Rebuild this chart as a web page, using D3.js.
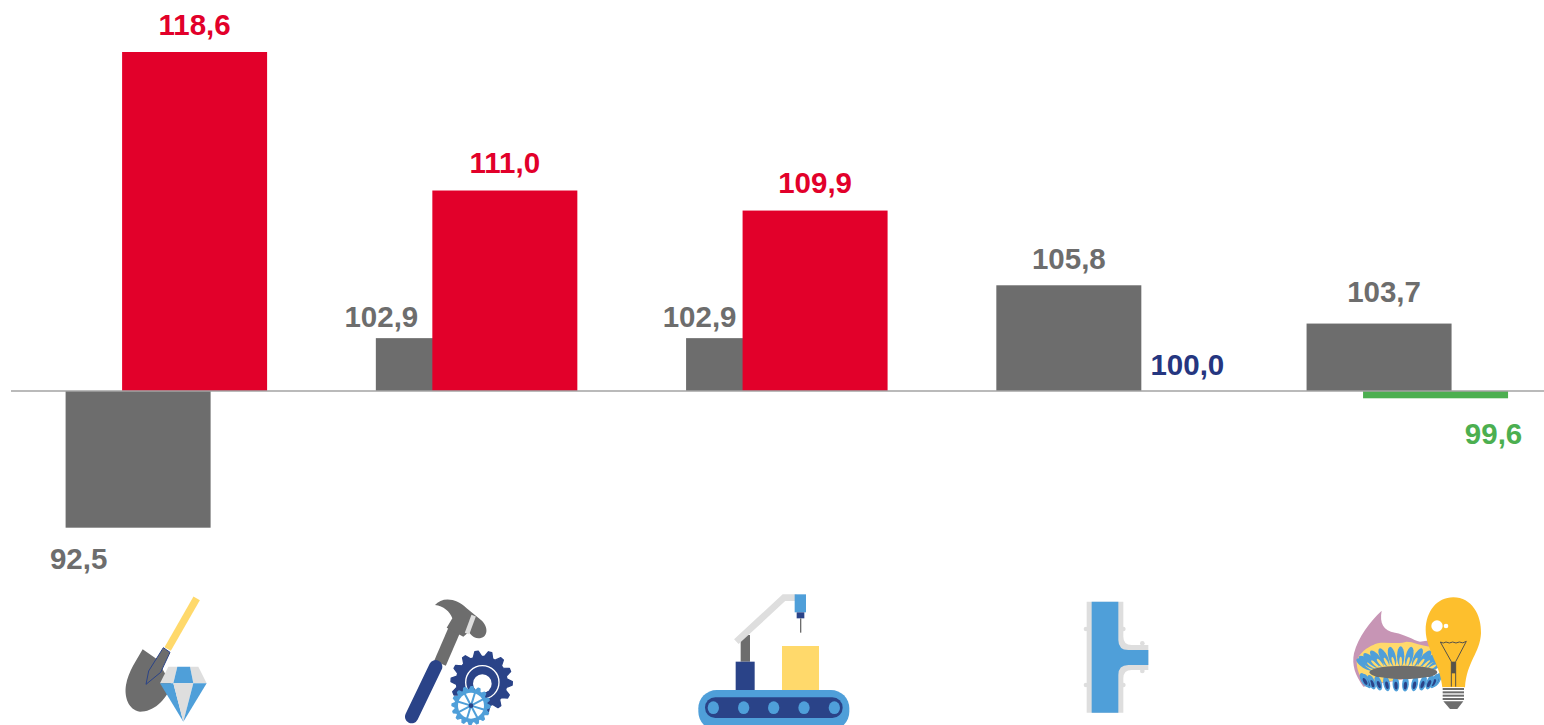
<!DOCTYPE html>
<html>
<head>
<meta charset="utf-8">
<script src="https://cdn.jsdelivr.net/npm/d3@7"></script>
<style>
html, body { margin: 0; padding: 0; background: #fff; overflow: hidden; }
text { font-family: "Liberation Sans", Arial, sans-serif; font-weight: bold; font-size: 29.5px; }
</style>
</head>
<body>
<svg id="canvas" width="1544" height="725"></svg>
<script>
var categories = ["mining", "metalworking", "manufacturing", "water", "energy"];
var previousValues = [92.5, 102.9, 102.9, 105.8, 103.7];
var currentValues = [118.6, 111.0, 109.9, 100.0, 99.6];

var GREY = "#6d6d6d", RED = "#e2002a", NAVY = "#253680", GREEN = "#4caf50";
var BLUE = "#4f9fd9", DARK = "#2a4388", LIGHT = "#dedede", YELLOW = "#ffd96b";

// labels were moved by hand in the original, so they are nudged one by one
var previousLabelShift = [[-59.5, 41], [-67, -11.5], [-59, -11.5], [0, -16.5], [5, -21.5]];
var currentLabelShift = [[0, -17.5], [0, -17.5], [0, -17.5], [62, -16.5], [58, 45.5]];

var svg = d3.select("#canvas");
var barWidth = 145, overlap = 56.5;

var x = d3.scaleBand().domain(categories).range([65.6, 1507.6]).paddingInner(0.352).paddingOuter(0);
var y = d3.scaleLinear().domain([100, 118.6]).range([391, 52]);

function barColor(v) {
    if (v > 100) return RED;
    if (v < 100) return GREEN;
    return NAVY;
}
function fmt(v) {
    return v.toFixed(1).replace(".", ",");
}

function drawSeries(values, offset, colorFn, shift) {
    var g = svg.append("g");
    g.selectAll("rect").data(values).enter().append("rect")
        .attr("x", function (d, i) { return x(categories[i]) + offset; })
        .attr("y", function (d) { return Math.min(y(d), y(100)); })
        .attr("width", barWidth)
        .attr("height", function (d) { return Math.abs(y(d) - y(100)); })
        .attr("fill", colorFn);
    g.selectAll("text").data(values).enter().append("text")
        .attr("x", function (d, i) { return x(categories[i]) + offset + barWidth / 2 + shift[i][0]; })
        .attr("y", function (d, i) { return (d < 100 ? Math.max(y(d), y(100)) : y(d)) + shift[i][1]; })
        .attr("text-anchor", "middle")
        .attr("fill", colorFn)
        .text(fmt);
}

drawSeries(previousValues, 0, function () { return GREY; }, previousLabelShift);
drawSeries(currentValues, overlap, barColor, currentLabelShift);

svg.append("line")
    .attr("x1", 11).attr("x2", 1544)
    .attr("y1", y(100)).attr("y2", y(100))
    .attr("stroke", "#a3a3a3").attr("stroke-width", 1.3);

// icons, drawn in 3x units
function icon(ox, oy) {
    return svg.append("g").attr("transform", "translate(" + ox + "," + oy + ") scale(" + (1 / 3) + ")");
}
function poly(g, pts, fill) {
    return g.append("polygon").attr("points", pts).attr("fill", fill);
}
function gear(g, cx, cy, r, teeth, toothLen, fill) {
    var pts = [];
    var n = teeth * 4;
    for (var i = 0; i < n; i++) {
        var a = (i / n) * 2 * Math.PI;
        var rr = (i % 4 < 2) ? r + toothLen : r;
        pts.push([cx + rr * Math.cos(a), cy + rr * Math.sin(a)].join(","));
    }
    poly(g, pts.join(" "), fill).attr("stroke", fill).attr("stroke-width", 4).attr("stroke-linejoin", "round");
}

function drawShovel() {
    var g = icon(100, 585);
    g.append("line").attr("x1", 290).attr("y1", 40).attr("x2", 203).attr("y2", 192)
        .attr("stroke", YELLOW).attr("stroke-width", 22);
    g.append("path").attr("fill", GREY)
        .attr("d", "M128,193 L170,222 L215,300 C195,350 160,380 120,380 C85,375 72,335 78,300 C85,260 110,225 128,193 Z");
    g.append("path").attr("fill", GREY).attr("stroke", DARK).attr("stroke-width", 3)
        .attr("d", "M190,188 L210,202 L182,262 L138,298 L146,258 Z");
    poly(g, "205,245 232,245 220,295 180,295", LIGHT);
    poly(g, "270,245 295,245 320,295 280,295", LIGHT);
    poly(g, "232,245 270,245 280,295 220,295", BLUE);
    poly(g, "180,295 220,295 250,410", BLUE);
    poly(g, "220,295 280,295 250,410", LIGHT);
    poly(g, "280,295 320,295 250,410", BLUE);
}

function drawHammer() {
    var g = icon(395, 585);
    g.append("line").attr("x1", 178).attr("y1", 135).attr("x2", 135).attr("y2", 235)
        .attr("stroke", GREY).attr("stroke-width", 38);
    g.append("path").attr("fill", GREY)
        .attr("d", "M120,60 C140,35 185,38 215,70 L258,105 C282,125 280,160 250,160 C235,158 225,148 222,140 L205,155 L155,128 L172,100 C165,80 145,62 120,60 Z");
    g.append("line").attr("x1", 236).attr("y1", 92).attr("x2", 216).attr("y2", 146)
        .attr("stroke", LIGHT).attr("stroke-width", 14);
    g.append("line").attr("x1", 122).attr("y1", 245).attr("x2", 50).attr("y2", 395)
        .attr("stroke", DARK).attr("stroke-width", 40).attr("stroke-linecap", "round");
    gear(g, 260, 290, 76, 14, 16, DARK);
    g.append("circle").attr("cx", 262).attr("cy", 292).attr("r", 50)
        .attr("fill", "none").attr("stroke", "#fff").attr("stroke-width", 4);
    g.append("circle").attr("cx", 262).attr("cy", 296).attr("r", 28).attr("fill", "#fff");
    gear(g, 228, 362, 48, 16, 9, BLUE);
    g.append("circle").attr("cx", 228).attr("cy", 362).attr("r", 39).attr("fill", "#fff");
    for (var i = 0; i < 8; i++) {
        var a = i * Math.PI / 4 + 0.3;
        g.append("line").attr("x1", 228).attr("y1", 362)
            .attr("x2", 228 + 42 * Math.cos(a)).attr("y2", 362 + 42 * Math.sin(a))
            .attr("stroke", BLUE).attr("stroke-width", 6);
    }
    g.append("circle").attr("cx", 228).attr("cy", 362).attr("r", 7).attr("fill", DARK);
}

function drawConveyor() {
    var g = icon(690, 585);
    g.append("rect").attr("x", 25).attr("y", 315).attr("width", 453).attr("height", 120).attr("rx", 55).attr("fill", BLUE);
    g.append("rect").attr("x", 45).attr("y", 337).attr("width", 413).attr("height", 62).attr("rx", 31).attr("fill", DARK);
    [70, 161, 251, 342, 433].forEach(function (cx) {
        g.append("ellipse").attr("cx", cx).attr("cy", 368).attr("rx", 17).attr("ry", 19).attr("fill", BLUE);
    });
    g.append("rect").attr("x", 276).attr("y", 183).attr("width", 111).attr("height", 132).attr("fill", YELLOW);
    g.append("rect").attr("x", 152).attr("y", 150).attr("width", 28).attr("height", 80).attr("fill", GREY);
    g.append("rect").attr("x", 137).attr("y", 230).attr("width", 57).attr("height", 85).attr("fill", DARK);
    g.append("polyline").attr("points", "139,170 282,38 320,38").attr("fill", "none")
        .attr("stroke", LIGHT).attr("stroke-width", 20);
    g.append("rect").attr("x", 314).attr("y", 28).attr("width", 34).attr("height", 54).attr("fill", BLUE);
    g.append("rect").attr("x", 320).attr("y", 82).attr("width", 23).attr("height", 18).attr("fill", DARK);
    g.append("rect").attr("x", 330).attr("y", 100).attr("width", 4).attr("height", 43).attr("fill", GREY);
}

function drawPipe() {
    var g = icon(1060, 590);
    [[78, 117], [78, 285], [190, 117], [190, 285], [247, 160], [247, 243]].forEach(function (p) {
        g.append("circle").attr("cx", p[0]).attr("cy", p[1]).attr("r", 7).attr("fill", LIGHT);
    });
    g.append("path").attr("fill", LIGHT)
        .attr("d", "M80,35 H190 V140 Q190,165 215,165 H265 V240 H215 Q190,240 190,265 V368 H80 Z");
    g.append("path").attr("fill", BLUE)
        .attr("d", "M95,35 H175 V150 Q175,180 205,180 H265 V225 H205 Q175,225 175,255 V368 H95 Z");
}

function drawFlame(g, px, py, deg, len, wide, core, coreWide, coreShift) {
    var f = g.append("g").attr("transform", "translate(" + px + "," + py + ") rotate(" + deg + ")");
    f.append("ellipse").attr("rx", wide).attr("ry", len).attr("fill", BLUE);
    f.append("ellipse").attr("cy", coreShift).attr("rx", coreWide).attr("ry", len * 0.5).attr("fill", core);
}

function drawBurner() {
    var g = icon(1340, 590);
    g.append("path").attr("fill", "#c795b5")
        .attr("d", "M125,62 C118,100 130,122 165,128 C195,133 220,150 240,155 L275,150 L290,250 L70,290 C45,255 35,225 42,190 C55,140 90,95 125,62 Z");
    g.append("path").attr("fill", YELLOW)
        .attr("d", "M50,215 C55,190 85,170 100,165 C115,150 175,165 200,155 C220,155 235,165 270,170 L290,250 L80,285 C60,265 50,240 50,215 Z");

    var cx = 182, i, t, n = 13;
    for (i = 0; i < n; i++) {
        t = Math.PI + Math.PI * (i + 0.5) / n;
        drawFlame(g, cx + 108 * Math.cos(t), 227 + 28 * Math.sin(t),
            Math.cos(t) * 58, 30, 11, YELLOW, 4, 16);
    }
    var m = 12;
    for (i = 0; i < m; i++) {
        t = Math.PI * (i + 0.5) / m;
        drawFlame(g, cx + 110 * Math.cos(t), 268 + 14 * Math.sin(t),
            Math.cos(t) * 28, 23, 10, DARK, 5, 5);
    }
    g.append("ellipse").attr("cx", cx + 8).attr("cy", 247).attr("rx", 102).attr("ry", 20).attr("fill", GREY);

    g.append("path").attr("fill", "#fdbf2d")
        .attr("d", "M340,22 C395,22 425,75 423,130 C420,190 380,215 375,292 H307 C300,220 258,180 257,120 C258,65 290,22 340,22 Z");
    g.append("circle").attr("cx", 291).attr("cy", 108).attr("r", 17).attr("fill", "#fff");
    g.append("circle").attr("cx", 318).attr("cy", 108).attr("r", 7).attr("fill", "#fff");
    g.append("path").attr("fill", "none").attr("stroke", "#55524a").attr("stroke-width", 3)
        .attr("d", "M301,156 Q310,162 318,156 Q328,162 338,156 Q348,162 358,156 Q368,162 379,154 L347,215 V290 M301,156 L334,215 V290");
    g.append("rect").attr("x", 334).attr("y", 215).attr("width", 13).attr("height", 35).attr("fill", "#55524a");
    g.append("rect").attr("x", 308).attr("y", 292).attr("width", 64).attr("height", 43).attr("fill", "#fff");
    [294, 304, 314, 324].forEach(function (ly) {
        g.append("rect").attr("x", 308).attr("y", ly).attr("width", 64).attr("height", 6).attr("fill", GREY);
    });
    poly(g, "310,334 370,334 352,357 330,357", GREY);
}

drawShovel();
drawHammer();
drawConveyor();
drawPipe();
drawBurner();
</script>
</body>
</html>
